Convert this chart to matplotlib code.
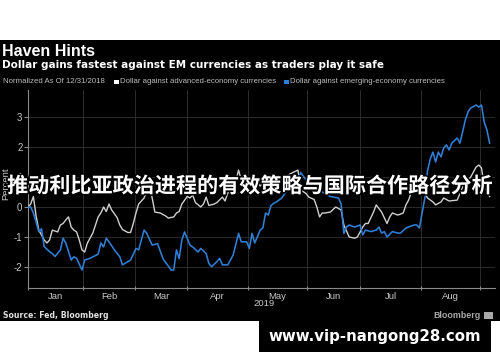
import matplotlib
matplotlib.use("Agg")
import matplotlib.pyplot as plt
from matplotlib.patches import Rectangle
import matplotlib.patheffects as pe

plt.rcParams['axes.unicode_minus'] = False

# ---- data (x = trading-day index since 12/31/2018) ----
adv_x = [0, 1, 2, 3, 4, 6, 7, 8, 9, 11, 12, 13, 14, 15, 16, 17, 18, 19, 20, 21, 22, 24, 25, 26, 27, 28,
         29, 30, 31, 33, 34, 35, 37, 38, 39, 40, 41, 43, 44, 45, 46, 47, 49, 51, 52, 54, 55, 56, 57, 59,
         60, 61, 62, 64, 65, 66, 67, 69, 70, 72, 73, 74, 76, 78, 79, 80, 82, 84, 86, 88, 90, 91, 94, 97,
         100, 101, 103, 104, 106, 107, 108, 109, 110, 112, 114, 116, 117, 119, 121, 122, 124, 125, 126,
         128, 129, 131, 133, 134, 135, 137, 139, 140, 141, 142, 144, 147, 148, 150, 151, 153, 154, 156,
         159, 161, 164, 166, 167, 168, 169, 170, 171]
adv_y = [0.0, 0.1, 0.35, -0.3, -0.77, -1.1, -1.2, -1.1, -0.77, -0.83, -0.6, -0.55, -0.43, -0.33, -0.67,
         -0.77, -0.83, -1.1, -1.43, -1.5, -1.2, -0.87, -0.6, -0.33, -0.2, 0.0, -0.15, 0.1, -0.1, -0.35,
         -0.6, -0.75, -0.85, -0.85, -0.55, -0.2, 0.1, 0.3, 0.55, 0.75, 0.3, -0.17, -0.2, -0.3, -0.37,
         -0.33, -0.2, -0.15, 0.1, 0.35, 0.3, 0.4, 0.15, 0.0, 0.1, 0.33, 0.05, 0.1, 0.15, 0.33, 0.2, 0.47,
         0.5, 1.23, 0.9, 1.0, 0.8, 0.95, 0.7, 0.9, 0.8, 1.0, 0.9, 1.1, 1.23, 0.57, 0.45, 0.33, 0.25, 0.0,
         -0.33, -0.2, -0.2, -0.17, 0.0, -0.1, -0.6, -1.0, -1.04, -1.0, -0.67, -0.55, -0.55, -0.17, 0.07,
         -0.17, -0.55, -0.33, -0.2, -0.27, -0.2, 0.07, 0.23, 0.5, 0.6, 0.45, 0.3, 0.17, 0.07, 0.17, 0.3,
         0.2, 0.23, 0.67, 1.0, 1.33, 1.4, 1.3, 0.73, 0.5, 0.35]

em_x = [0, 1, 2, 3, 4, 5, 6, 8, 9, 10, 12, 13, 14, 16, 17, 18, 20, 21, 23, 26, 27, 28, 29, 30, 32, 34,
        35, 37, 38, 40, 41, 43, 44, 46, 48, 50, 53, 54, 55, 56, 57, 58, 60, 61, 63, 64, 66, 67, 68, 70,
        71, 72, 74, 76, 78, 79, 81, 82, 83, 84, 86, 87, 88, 89, 90, 91, 92, 94, 96, 97, 98, 99, 100, 101,
        103, 105, 107, 110, 112, 115, 116, 117, 118, 119, 121, 123, 124, 125, 127, 129, 130, 131, 132,
        133, 135, 137, 138, 140, 143, 144, 145, 146, 147, 148, 149, 150, 151, 152, 153, 154, 155, 156,
        157, 159, 160, 161, 162, 163, 164, 166, 167, 168, 169, 170, 171]
em_y = [0.0, 0.0, -0.2, -0.5, -0.82, -0.73, -1.32, -1.49, -1.55, -1.65, -1.43, -1.04, -1.2, -1.77, -1.66,
        -1.71, -2.1, -1.77, -1.71, -1.57, -1.2, -1.33, -1.04, -1.16, -1.43, -1.66, -1.93, -1.82, -1.77,
        -1.38, -1.43, -0.77, -0.88, -1.27, -1.22, -1.72, -2.1, -2.1, -1.43, -1.72, -1.1, -0.83, -1.27,
        -1.33, -1.5, -1.38, -1.55, -1.88, -1.99, -1.82, -1.71, -1.93, -1.93, -1.6, -0.88, -1.16, -1.16,
        -1.38, -0.88, -1.2, -0.77, -0.7, -0.2, -0.27, 0.05, 0.12, 0.17, 0.3, 0.57, 0.73, 0.8, 0.63, 0.8,
        1.15, 0.9, 0.75, 0.6, 0.45, 0.35, 0.3, 0.1, -0.88, -0.67, -0.6, -0.67, -0.6, -0.93, -0.77, -0.82,
        -0.77, -0.67, -0.87, -0.82, -1.0, -0.82, -0.87, -0.87, -0.7, -0.6, -0.6, -0.7, -0.2, 0.3, 1.2,
        1.6, 1.83, 1.5, 1.83, 1.67, 1.97, 2.07, 1.9, 2.13, 2.3, 2.13, 2.5, 2.9, 3.17, 3.3, 3.4, 3.33, 3.4,
        2.83, 2.57, 2.13]

month_bounds = [0, 20.4, 39.6, 58.9, 81.5, 103.3, 123.0, 145.6, 167.4]
month_labels = ["Jan", "Feb", "Mar", "Apr", "May", "Jun", "Jul", "Aug"]
y_ticks = [-2, -1, 0, 1, 2, 3]

W, H = 500, 362
fig = plt.figure(figsize=(5, 3.62), dpi=100, facecolor="white")

def fx(px):
    return px / W

def fy(py):
    return 1 - py / H

# black panel
fig.patches.append(Rectangle((0, fy(321)), 1, fy(40) - fy(321), transform=fig.transFigure,
                             facecolor="black", edgecolor="none", zorder=-10))
# url box
fig.patches.append(Rectangle((fx(259), fy(352)), fx(491) - fx(259), fy(321) - fy(352),
                             transform=fig.transFigure, facecolor="black", edgecolor="none", zorder=-10))

ax = fig.add_axes([fx(28), fy(288), fx(495) - fx(28), fy(90) - fy(288)])
ax.set_zorder(1)
ax.set_facecolor("black")
ax.set_xlim(0, 173)
ax.set_ylim(-2.7, 3.9)

grid_c = "#333333"
for v in y_ticks:
    ax.axhline(v, color=grid_c, lw=0.6, zorder=1)
for b in month_bounds[1:]:
    ax.axvline(b, color=grid_c, lw=0.6, zorder=1)

ax.plot(adv_x, adv_y, color="#cfcfcf", lw=1.0, zorder=3)
ax.plot(em_x, em_y, color="#2f7fd6", lw=1.15, zorder=4)

for s in ["top", "right"]:
    ax.spines[s].set_visible(False)
for s in ["left", "bottom"]:
    ax.spines[s].set_color("#8a8a8a")
    ax.spines[s].set_linewidth(0.8)

ax.set_yticks(y_ticks)
ax.set_yticklabels([str(v) for v in y_ticks])
ax.tick_params(axis="y", colors="#8a8a8a", labelcolor="#c8c8c8", labelsize=7, length=3, width=0.8, pad=1)
ax.set_xticks(month_bounds)
ax.set_xticklabels([])
mids = [(month_bounds[i] + month_bounds[i + 1]) / 2 for i in range(len(month_labels))]
ax.set_xticks(mids, minor=True)
ax.set_xticklabels(month_labels, minor=True)
ax.tick_params(axis="x", which="major", colors="#8a8a8a", length=3, width=0.8, direction="inout")
ax.tick_params(axis="x", which="minor", length=0, labelcolor="#c8c8c8", labelsize=6.8, pad=3)
for lab in ax.get_xticklabels(minor=True) + ax.get_yticklabels():
    lab.set_family("Liberation Sans")

fig.text(fx(5.5), fy(184), "Percent", rotation=90, color="#c8c8c8", fontsize=6.8,
         family="Liberation Sans", ha="center", va="center", zorder=5)
fig.text(fx(253), fy(304), "2019", color="#c8c8c8", fontsize=6.8, family="Liberation Sans",
         ha="left", va="center")

# header
fig.text(fx(2), fy(51), "Haven Hints", color="white", fontsize=11.5, weight="bold",
         family="Liberation Sans", ha="left", va="center")
fig.text(fx(2), fy(64.5), "Dollar gains fastest against EM currencies as traders play it safe",
         color="white", fontsize=7.5, weight="bold", family="DejaVu Sans", ha="left", va="center")
fig.text(fx(3), fy(81.5), "Normalized As Of 12/31/2018", color="#bdbdbd", fontsize=5.6,
         family="Liberation Sans", ha="left", va="center")
fig.patches.append(Rectangle((fx(114), fy(84)), fx(4.5), fy(79.5) - fy(84), transform=fig.transFigure,
                             facecolor="white", edgecolor="none"))
fig.text(fx(119.5), fy(81.5), "Dollar against advanced-economy currencies", color="#bdbdbd",
         fontsize=5.6, family="Liberation Sans", ha="left", va="center")
fig.patches.append(Rectangle((fx(284), fy(84)), fx(4.5), fy(79.5) - fy(84), transform=fig.transFigure,
                             facecolor="#2f7fd6", edgecolor="none"))
fig.text(fx(290), fy(81.5), "Dollar against emerging-economy currencies", color="#bdbdbd",
         fontsize=5.6, family="Liberation Sans", ha="left", va="center")

# footer
fig.text(fx(3), fy(315.5), "Source: Fed, Bloomberg", color="#e0e0e0", fontsize=5.6, weight="bold",
         family="DejaVu Sans", ha="left", va="center")
fig.text(fx(481), fy(315.5), "Bloomberg", color="#a8a8a8", fontsize=6.4, weight="bold",
         family="Liberation Sans", ha="right", va="center")
fig.patches.append(Rectangle((fx(484), fy(319)), fx(9), fy(312) - fy(319), transform=fig.transFigure,
                             facecolor="#a8a8a8", edgecolor="none"))

fig.text(fx(375), fy(337), "www.vip-nangong28.com", color="white", fontsize=10.8, weight="bold",
         family="DejaVu Sans", ha="center", va="center")

# overlay title
fig.text(fx(250), fy(186), "推动利比亚政治进程的有效策略与国际合作路径分析", color="white",
         fontsize=15.2, weight="bold", family=["Noto Sans CJK SC", "DejaVu Sans"],
         ha="center", va="center", zorder=10,
         path_effects=[pe.withStroke(linewidth=2.2, foreground="black")])

fig.savefig("out.png", dpi=100, facecolor="white")
